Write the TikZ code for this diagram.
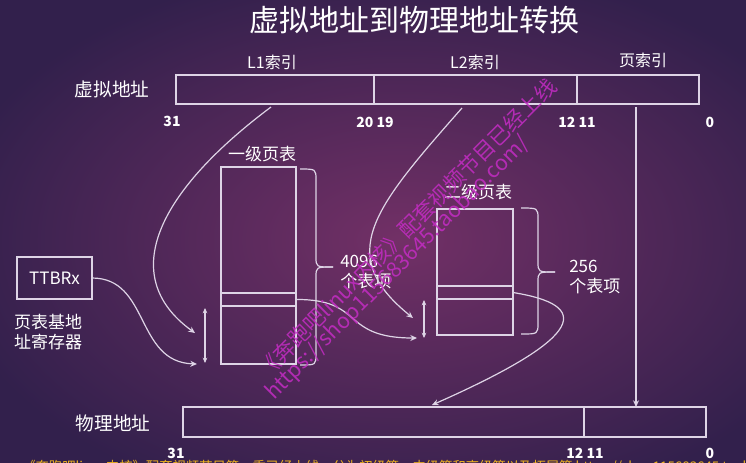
\documentclass[tikz,border=0pt]{standalone}
\usepackage{fontspec}
\setmainfont{Noto Sans CJK SC}
\usetikzlibrary{arrows.meta}
\definecolor{linec}{RGB}{222,212,230}
\definecolor{bgin}{RGB}{114,48,102}
\definecolor{bgout}{RGB}{50,32,76}
\definecolor{wmc}{RGB}{196,44,196}
\definecolor{yel}{RGB}{238,178,30}
\begin{document}
\begin{tikzpicture}[x=0.75pt,y=-0.75pt,
  box/.style={draw=linec, line width=1.1pt, inner sep=0pt, outer sep=0pt},
  lbl/.style={text=white, inner sep=0pt},
  conn/.style={draw=linec, line width=0.9pt},
  arr/.style={conn, -{Stealth[length=5pt,width=4.5pt]}},
  darr/.style={conn, {Stealth[length=4pt,width=3.5pt]}-{Stealth[length=4pt,width=3.5pt]}},
  wm/.style={text=wmc, opacity=0.85, inner sep=0pt, font=\fontsize{16}{18}\selectfont, rotate=45},
  numf/.style={lbl, font=\bfseries\fontsize{10.5}{12}\selectfont},
  midf/.style={lbl, font=\fontsize{12.75}{15}\selectfont}
]
\useasboundingbox (0,0) rectangle (746,462);
\clip (0,0) rectangle (746,462);
\shade[inner color=bgin, outer color=bgout] (-60,-40) rectangle (860,520);

% title
\node[lbl, font=\fontsize{22.5}{26}\selectfont] (title) at (414,20) {虚拟地址到物理地址转换};

% virtual address
\node[box, minimum width=148.5pt, minimum height=21.75pt] (l1) at (275,89.5) {};
\node[box, minimum width=152.25pt, minimum height=21.75pt] (l2) at (475.5,89.5) {};
\node[box, minimum width=91.5pt, minimum height=21.75pt] (pg) at (638,89.5) {};
\node[lbl, font=\fontsize{12}{14}\selectfont] (l1t) at (272,62) {L1索引};
\node[lbl, font=\fontsize{12}{14}\selectfont] (l2t) at (475,62) {L2索引};
\node[lbl, font=\fontsize{12}{14}\selectfont] (pgt) at (643,60) {页索引};
\node[lbl, font=\fontsize{14}{16}\selectfont] (vaddr) at (112,89) {虚拟地址};
\node[numf] (n31) at (172,121) {31};
\node[numf] (n2019) at (375,122) {20 19};
\node[numf] (n1211) at (577,122) {12 11};
\node[numf] (n0) at (710,122) {0};

% footer (partly cut)
\node[anchor=west, text=yel, inner sep=0pt, font=\fontsize{10}{12}\selectfont] (foot) at (22,467) {《奔跑吧linux内核》配套视频节目第一季已经上线，分为初级篇、中级篇和高级篇以及拓展篇 https://shop115683645.taobao.com/};

% physical address
\node[box, minimum width=300.75pt, minimum height=22.5pt] (pf1) at (383.5,422) {};
\node[box, minimum width=91.5pt, minimum height=22.5pt] (pf2) at (645,422) {};
\node[lbl, font=\fontsize{14}{16}\selectfont] (paddr) at (113,423) {物理地址};
\node[numf] (m31) at (176,453) {31};
\node[numf] (m1211) at (585,453) {12 11};
\node[numf] (m0) at (710,453) {0};

% level 1 table
\node[box, minimum width=56.25pt, minimum height=94.5pt] (t1a) at (258.5,230) {};
\node[box, minimum width=56.25pt, minimum height=9.75pt] (t1e) at (258.5,299.5) {};
\node[box, minimum width=56.25pt, minimum height=43.5pt] (t1b) at (258.5,335) {};
\node[midf] (t1l) at (262,154) {一级页表};
\draw[conn] (300,169) .. controls (316,169) .. (316,180) -- (316,257) .. controls (316,267) .. (333,267);
\draw[conn] (333,267) .. controls (316,267) .. (316,277) -- (316,354) .. controls (316,365) .. (300,365);
\node[midf, align=left, anchor=west] (c4096) at (340,272) {4096\\个表项};

% level 2 table
\node[box, minimum width=57pt, minimum height=57.75pt] (t2a) at (475,247.5) {};
\node[box, minimum width=57pt, minimum height=9.75pt] (t2e) at (475,292.5) {};
\node[box, minimum width=57pt, minimum height=27pt] (t2b) at (475,317) {};
\node[midf] (t2l) at (478,192) {二级页表};
\draw[conn] (521,208) .. controls (538,208) .. (538,219) -- (538,262) .. controls (538,272) .. (555,272);
\draw[conn] (555,272) .. controls (538,272) .. (538,282) -- (538,323) .. controls (538,334) .. (521,334);
\node[midf, align=left, anchor=west] (c256) at (569,277) {256\\个表项};

% TTBRx
\node[box, minimum width=56.25pt, minimum height=31.5pt, text=white, font=\fontsize{12.75}{15}\selectfont] (ttbr) at (54.5,278) {TTBRx};
\node[midf, align=left] (ttbrl) at (48,332) {页表基地\\址寄存器};

% coordinates
\coordinate (a1s) at (271,107);
\coordinate (a1e) at (195,333);
\coordinate (a2s) at (462,108);
\coordinate (a2e) at (413,318);
\coordinate (tte) at (197,364);
\coordinate (d1t) at (205,308);
\coordinate (d1b) at (205,363);
\coordinate (b1e) at (417,338);
\coordinate (d2t) at (424,300);
\coordinate (d2b) at (424,338);
\coordinate (c2e) at (432,405);
\coordinate (vtop) at (636,107);

% connectors
\draw[arr] (a1s) .. controls (160,190) and (115,275) .. (a1e);
\draw[arr] (a2s) .. controls (372,210) and (335,255) .. (a2e);
\draw[arr] (ttbr.east) .. controls (150,278) and (135,362) .. (tte);
\draw[darr] (d1t) -- (d1b);
\draw[arr] (t1e.east) .. controls (365,299) and (340,338) .. (b1e);
\draw[darr] (d2t) -- (d2b);
\draw[arr] (t2e.east) .. controls (590,305) and (590,335) .. (c2e);
\draw[arr] (vtop) -- (vtop |- pf2.north);

% watermark
\node[wm] (wm1) at (407,228) {《奔跑吧linux内核》配套视频节目已经上线};
\node[wm] (wm2) at (398,268) {https://shop115683645.taobao.com/};
\end{tikzpicture}
\end{document}
